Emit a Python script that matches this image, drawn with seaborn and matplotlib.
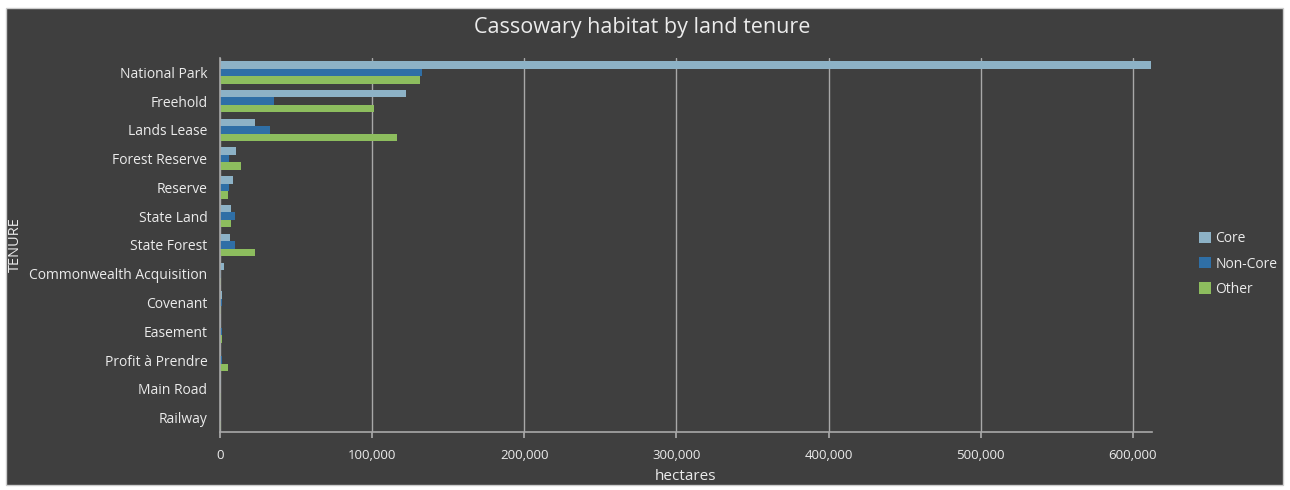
import matplotlib
matplotlib.use("Agg")
import matplotlib.pyplot as plt
from matplotlib.patches import Rectangle
from matplotlib.ticker import FuncFormatter
import pandas as pd
import seaborn as sns

# Habitat area (hectares) by land tenure and habitat class
tenures = ["National Park", "Freehold", "Lands Lease", "Forest Reserve", "Reserve",
           "State Land", "State Forest", "Commonwealth Acquisition", "Covenant",
           "Easement", "Profit à Prendre", "Main Road", "Railway"]
core = [612000, 122400, 23200, 10300, 8800, 7500, 6800, 2600, 1500, 800, 500, 400, 300]
non_core = [132700, 35500, 32700, 6100, 5900, 9900, 9600, 500, 1400, 1000, 1000, 300, 200]
other = [131700, 100900, 116200, 13600, 5000, 7200, 23200, 500, 500, 1500, 5500, 500, 400]
classes = ["Core", "Non-Core", "Other"]
colors = ["#8db2c6", "#2f6fa6", "#8dbd5e"]

df = pd.DataFrame({
    "TENURE": tenures * 3,
    "hectares": core + non_core + other,
    "class": [c for c in classes for _ in tenures],
})

BG = "#3f3f3f"
TXT = "#ebebeb"
GRID = "#a8a8a8"

sns.set_theme(style="dark")
plt.rcParams["font.family"] = ["Open Sans", "DejaVu Sans"]

fig = plt.figure(figsize=(12.9, 4.9), dpi=100, facecolor="white")
fig.patches.append(Rectangle((6 / 1290, 5 / 490), 1277 / 1290, 477 / 490,
                             transform=fig.transFigure, facecolor=BG,
                             edgecolor="#cccccc", linewidth=1, zorder=-10))
ax = fig.add_axes([220 / 1290, 58 / 490, 932 / 1290, 374 / 490])
ax.set_facecolor(BG)

sns.barplot(data=df, y="TENURE", x="hectares", hue="class", order=tenures,
            hue_order=classes, palette=colors, orient="h", width=0.78,
            saturation=1, edgecolor="none", ax=ax, legend=True)

ax.set_xlim(0, 612500)
ax.set_ylim(len(tenures) - 0.5, -0.5)
ax.set_xticks([0, 100000, 200000, 300000, 400000, 500000, 600000])
ax.xaxis.set_major_formatter(FuncFormatter(lambda v, p: f"{int(v):,}"))
ax.grid(axis="x", color=GRID, linewidth=1)
ax.grid(axis="y", visible=False)
ax.set_axisbelow(True)

for side in ["top", "right"]:
    ax.spines[side].set_visible(False)
for side in ["left", "bottom"]:
    ax.spines[side].set_visible(True)
    ax.spines[side].set_color(GRID)
    ax.spines[side].set_linewidth(1.2)

ax.tick_params(axis="x", colors=GRID, labelcolor=TXT, labelsize=9.5, length=4,
               direction="out", bottom=True, pad=8)
ax.tick_params(axis="y", colors=TXT, labelcolor=TXT, labelsize=10, length=0, pad=9)

ax.set_xlabel("hectares", color=TXT, fontsize=11, labelpad=5)
ax.set_ylabel("")
fig.text(15 / 1290, 1 - 245 / 490, "TENURE", rotation=90, color=TXT, fontsize=10.5,
         ha="center", va="center")
fig.text(642 / 1290, 1 - 27 / 490, "Cassowary habitat by land tenure", color=TXT,
         fontsize=15.5, ha="center", va="center")

handles, labels = ax.get_legend_handles_labels()
ax.legend_.remove()
fig.legend(handles, labels, loc="center left", bbox_to_anchor=(1193 / 1290, 1 - 264 / 490),
           frameon=False, labelcolor=TXT, fontsize=10, handlelength=0.9,
           handleheight=0.9, handletextpad=0.3, labelspacing=0.75, borderaxespad=0)

fig.savefig("out.png", dpi=100, facecolor=fig.get_facecolor())
